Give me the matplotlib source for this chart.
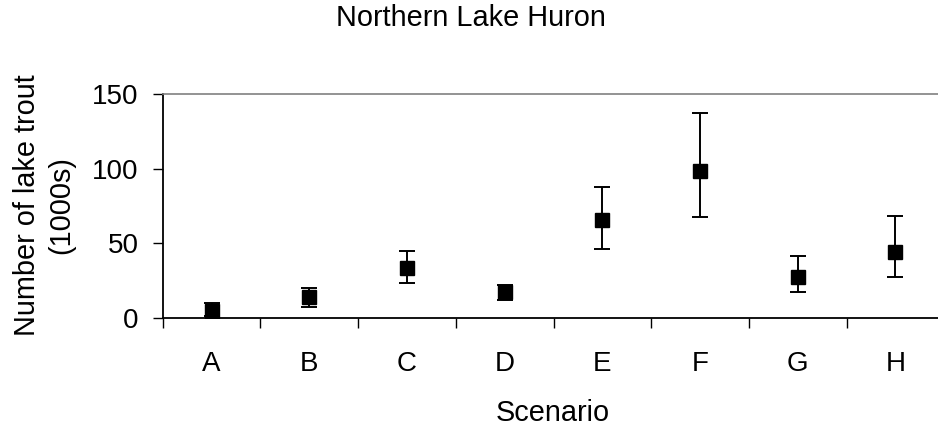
import matplotlib
matplotlib.use('Agg')
import matplotlib.pyplot as plt
import numpy as np

# data (thousands of lake trout)
scenarios = ['A', 'B', 'C', 'D', 'E', 'F', 'G', 'H']
trout_mean = [4.8, 13.9, 33.3, 17.2, 65.4, 98.4, 27.7, 44.0]
trout_upper = [9.8, 20.3, 45.1, 22.3, 87.7, 137.1, 41.7, 68.3]
trout_lower = [1.5, 7.4, 23.7, 11.8, 46.0, 67.4, 17.2, 27.7]

plt.rcParams['font.family'] = ['Liberation Sans', 'DejaVu Sans']
plt.rcParams['font.size'] = 20

fig = plt.figure(figsize=(9.38, 4.28), dpi=100)
ax = fig.add_axes([0.1735, 0.257, 0.8332, 0.5234])

x = np.arange(len(scenarios))
mean = np.array(trout_mean)
yerr = [mean - np.array(trout_lower), np.array(trout_upper) - mean]
ax.errorbar(x, mean, yerr=yerr, fmt='s', color='black', ms=10,
            elinewidth=1.4, capsize=6, capthick=1.4)

ax.set_xlim(-0.5, len(scenarios) - 0.5)
ax.set_ylim(0, 150)
ax.set_yticks([0, 50, 100, 150])

# category boundaries get the tick marks, labels sit in the middle
ax.set_xticks(np.arange(len(scenarios) + 1) - 0.5)
ax.set_xticklabels([])
ax.set_xticks(x, minor=True)
ax.set_xticklabels(scenarios, minor=True)
ax.tick_params(axis='x', which='major', direction='out', length=7.2, width=1)
ax.tick_params(axis='x', which='minor', length=0, pad=24)
ax.tick_params(axis='y', direction='out', length=7.2, width=1, pad=10)

for side in ['left', 'bottom']:
    ax.spines[side].set_linewidth(1.3)
ax.spines['top'].set_color('#808080')
ax.spines['top'].set_linewidth(1.2)
ax.spines['right'].set_visible(False)

fig.text(0.502, 0.957, 'Northern Lake Huron', ha='center', va='center',
         fontsize=20.8)
fig.text(0.5895, 0.036, 'Scenario', ha='center', va='center', fontsize=20.8)
fig.text(0.047, 0.521, 'Number of lake trout\n(1000s)', rotation=90,
         ha='center', va='center', multialignment='center', linespacing=1.3,
         fontsize=20.8)

plt.savefig('out.png', dpi=100)
